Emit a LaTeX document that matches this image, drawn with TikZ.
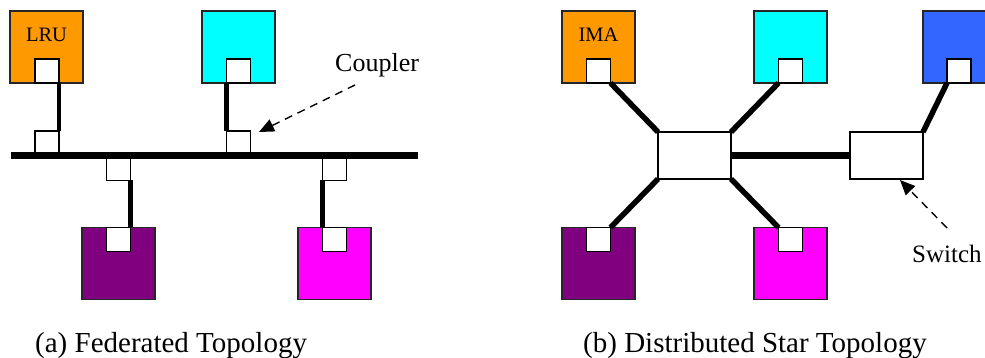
\documentclass[tikz,border=0pt]{standalone}
\usepackage{fontspec}
\setmainfont{LiberationSerif}[Extension=.ttf, UprightFont=*-Regular, BoldFont=*-Bold, ItalicFont=*-Italic, BoldItalicFont=*-BoldItalic]
\newfontfamily\timesfont{LiberationSerif}[Extension=.ttf, UprightFont=*-Regular]
\usetikzlibrary{arrows.meta}
\definecolor{lruorange}{HTML}{FF9900}
\definecolor{lrucyan}{HTML}{00FFFF}
\definecolor{lrublue}{HTML}{3366FF}
\definecolor{lrupurple}{HTML}{800080}
\definecolor{lrumagenta}{HTML}{FF00FF}
\tikzset{
  unitbox/.style={draw=black!85, line width=1.4pt, minimum width=73pt, minimum height=72pt, inner sep=0pt, outer sep=0pt},
  portbox/.style={draw=black, fill=white, line width=1.4pt, minimum width=24pt, minimum height=24pt, inner sep=0pt, outer sep=0pt},
  cplbox/.style={draw=black, fill=white, line width=1.4pt, minimum width=24pt, minimum height=22pt, inner sep=0pt, outer sep=0pt},
  hubbox/.style={draw=black, fill=white, line width=1.4pt, minimum width=73pt, minimum height=47pt, inner sep=0pt, outer sep=0pt},
  stub/.style={line width=4.2pt},
  spoke/.style={line width=5.5pt},
  busline/.style={line width=7.5pt},
  callout/.style={line width=1.4pt, dash pattern=on 8pt off 6pt, -{Triangle[length=15pt,width=13pt]}},
  unitlabel/.style={font=\timesfont\fontsize{20.5pt}{24pt}\selectfont, anchor=base, inner sep=0pt},
  notelabel/.style={font=\timesfont\fontsize{26pt}{30pt}\selectfont, anchor=base west, inner sep=0pt},
  caption/.style={font=\timesfont\fontsize{29pt}{33pt}\selectfont, anchor=base west, inner sep=0pt},
}
\begin{document}
\begin{tikzpicture}[x=1pt, y=-1pt]
\clip (0,0) rectangle (985,358);
\fill[white] (0,0) rectangle (985,358);

% ---------- (a) federated topology ----------
\node[unitbox, fill=lruorange] (fa) at (46.5,47) {};
\node[unitbox, fill=lrucyan] (fb) at (238.5,47) {};
\node[unitbox, fill=lrupurple] (fc) at (118.5,263.5) {};
\node[unitbox, fill=lrumagenta] (fd) at (334.5,263.5) {};
\node[unitlabel] (lrulbl) at (46.5,42) {LRU};

\node[portbox] (fap) at (47,71) {};
\node[portbox] (fbp) at (238.5,71) {};
\node[portbox] (fcp) at (118.5,239.5) {};
\node[portbox] (fdp) at (334.5,239.5) {};

\node[cplbox] (ca) at (47,142) {};
\node[cplbox] (cb) at (238.5,142) {};
\node[cplbox] (cc) at (118.5,169.5) {};
\node[cplbox] (cd) at (334.5,169.5) {};

\coordinate (busl) at (11,155.5);
\coordinate (busr) at (418,155.5);
\draw[busline] (busl) -- (busr);

\draw[stub] (fap.south east) -- (ca.north east);
\draw[stub] (fbp.south west) -- (cb.north west);
\draw[stub] (cc.south east) -- (fcp.north east);
\draw[stub] (cd.south west) -- (fdp.north west);

\node[notelabel] (cpllbl) at (335,72) {Coupler};
\coordinate (cplfrom) at (355,85);
\coordinate (cplto) at (259,132);
\draw[callout] (cplfrom) -- (cplto);

\node[caption] (capa) at (35,352) {(a) Federated Topology};

% ---------- (b) distributed star topology ----------
\node[unitbox, fill=lruorange] (sa) at (598.5,47) {};
\node[unitbox, fill=lrucyan] (sb) at (790.5,47) {};
\node[unitbox, fill=lrublue] (se) at (959.5,47) {};
\node[unitbox, fill=lrupurple] (sc) at (598.5,263.5) {};
\node[unitbox, fill=lrumagenta] (sd) at (790.5,263.5) {};
\node[unitlabel] (imalbl) at (598.5,42) {IMA};

\node[portbox] (sap) at (598.5,71) {};
\node[portbox] (sbp) at (790.5,71) {};
\node[portbox] (sep) at (959,71) {};
\node[portbox] (scp) at (598.5,239.5) {};
\node[portbox] (sdp) at (790.5,239.5) {};

\node[hubbox] (hub) at (694.5,155.5) {};
\node[hubbox] (sw) at (886.5,155.5) {};

\draw[spoke] (sap.south east) -- (hub.north west);
\draw[spoke] (sbp.south west) -- (hub.north east);
\draw[spoke] (sep.south west) -- (sw.north east);
\draw[spoke] (hub.south west) -- (scp.north east);
\draw[spoke] (hub.south east) -- (sdp.north west);
\draw[busline] (hub.east) -- (sw.west);

\node[notelabel, font=\timesfont\fontsize{25pt}{29pt}\selectfont] (swlbl) at (912,262) {Switch};
\coordinate (swfrom) at (947,228);
\coordinate (swto) at (900,180);
\draw[callout] (swfrom) -- (swto);

\node[caption] (capb) at (583,352) {(b) Distributed Star Topology};
\end{tikzpicture}
\end{document}
